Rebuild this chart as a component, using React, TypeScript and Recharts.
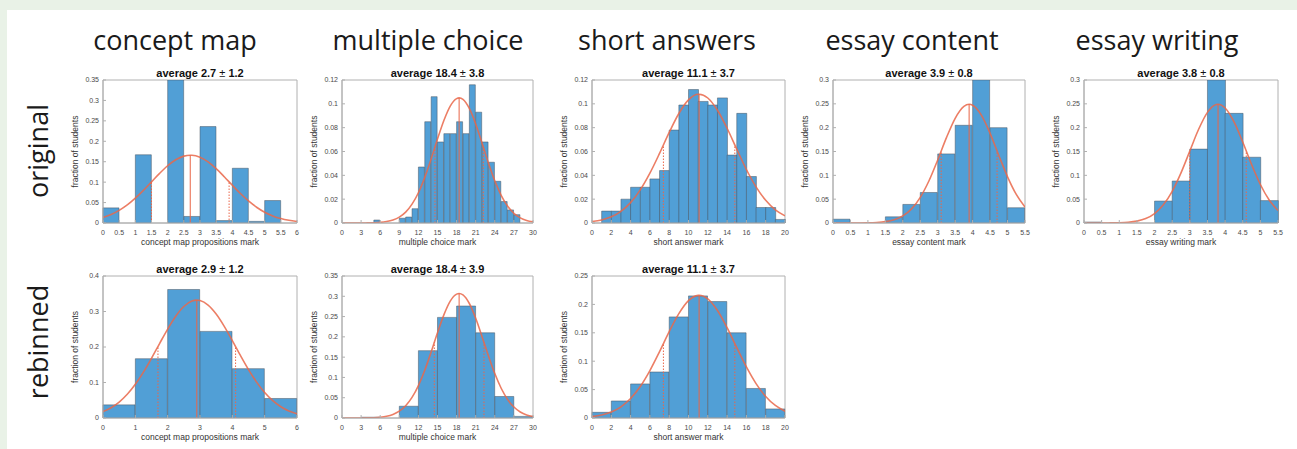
import React from 'react';
import { ComposedChart, Bar, Line, XAxis, YAxis, ReferenceLine, ReferenceArea } from 'recharts';

// ---------------- DATA ----------------
const columnHeaders = ['concept map', 'multiple choice', 'short answers', 'essay content', 'essay writing'];
const rowLabels = ['original', 'rebinned'];

// concept map (original)
const cmOrigBins = [0, 0.5, 1, 1.5, 2, 2.5, 3, 3.5, 4, 4.5, 5, 5.5];
const cmOrigFrac = [0.037, 0, 0.167, 0, 0.35, 0.016, 0.236, 0.006, 0.134, 0.004, 0.055, 0];
const cmOrigCurveX = [0, 0.25, 0.5, 0.75, 1, 1.25, 1.5, 1.75, 2, 2.25, 2.5, 2.7, 2.75, 3, 3.25, 3.5, 3.75, 4, 4.25, 4.5, 4.75, 5, 5.25, 5.5, 5.75, 6];
const cmOrigCurveY = [0.0132, 0.0206, 0.0309, 0.0443, 0.0609, 0.08, 0.1007, 0.1214, 0.1401, 0.1547, 0.1637, 0.166, 0.1659, 0.1609, 0.1494, 0.1329, 0.1132, 0.0923, 0.0721, 0.0539, 0.0386, 0.0264, 0.0174, 0.0109, 0.0066, 0.0038];
const cmOrigXTicks = [0, 0.5, 1, 1.5, 2, 2.5, 3, 3.5, 4, 4.5, 5, 5.5, 6];
const cmOrigYTicks = [0, 0.05, 0.1, 0.15, 0.2, 0.25, 0.3, 0.35];
const cmOrigStats = { mean: 2.7, lo: 1.5, hi: 3.9, peak: 0.166, sdY: 0.1007 };

// multiple choice (original)
const mcOrigBins = [0, 1, 2, 3, 4, 5, 6, 7, 8, 9, 10, 11, 12, 13, 14, 15, 16, 17, 18, 19, 20, 21, 22, 23, 24, 25, 26, 27, 28, 29];
const mcOrigFrac = [0, 0, 0, 0, 0, 0.0025, 0, 0, 0, 0.004, 0.005, 0.012, 0.047, 0.085, 0.106, 0.068, 0.075, 0.075, 0.085, 0.075, 0.116, 0.093, 0.068, 0.051, 0.035, 0.018, 0.011, 0.007, 0, 0];
const mcOrigCurveX = [0, 1, 2, 3, 4, 5, 6, 7, 8, 9, 10, 11, 12, 13, 14, 15, 16, 17, 18, 18.4, 19, 20, 21, 22, 23, 24, 25, 26, 27, 28, 29, 30];
const mcOrigCurveY = [0, 0, 0, 0, 0.0001, 0.0002, 0.0005, 0.0012, 0.0025, 0.0049, 0.0091, 0.0158, 0.0254, 0.0383, 0.0537, 0.0704, 0.086, 0.0981, 0.1044, 0.105, 0.1037, 0.0961, 0.0831, 0.067, 0.0504, 0.0354, 0.0232, 0.0142, 0.0081, 0.0043, 0.0021, 0.001];
const mcOrigXTicks = [0, 3, 6, 9, 12, 15, 18, 21, 24, 27, 30];
const mcOrigYTicks = [0, 0.02, 0.04, 0.06, 0.08, 0.1, 0.12];
const mcOrigStats = { mean: 18.4, lo: 14.6, hi: 22.2, peak: 0.105, sdY: 0.0637 };

// short answers (original)
const saOrigBins = [0, 1, 2, 3, 4, 5, 6, 7, 8, 9, 10, 11, 12, 13, 14, 15, 16, 17, 18, 19];
const saOrigFrac = [0, 0.01, 0.01, 0.02, 0.03, 0.03, 0.037, 0.044, 0.078, 0.099, 0.112, 0.102, 0.099, 0.105, 0.057, 0.092, 0.039, 0.013, 0.013, 0.003];
const saOrigCurveX = [0, 1, 2, 3, 4, 5, 6, 7, 8, 9, 10, 11, 11.1, 12, 13, 14, 15, 16, 17, 18, 19, 20];
const saOrigCurveY = [0.0012, 0.0026, 0.0052, 0.0098, 0.0171, 0.0278, 0.0418, 0.0584, 0.076, 0.0919, 0.1033, 0.108, 0.108, 0.1049, 0.0946, 0.0795, 0.062, 0.0449, 0.0303, 0.019, 0.011, 0.006];
const saOrigXTicks = [0, 2, 4, 6, 8, 10, 12, 14, 16, 18, 20];
const saOrigYTicks = [0, 0.02, 0.04, 0.06, 0.08, 0.1, 0.12];
const saOrigStats = { mean: 11.1, lo: 7.4, hi: 14.8, peak: 0.108, sdY: 0.0655 };

// essay content (original)
const ecBins = [0, 0.5, 1, 1.5, 2, 2.5, 3, 3.5, 4, 4.5, 5];
const ecFrac = [0.008, 0, 0, 0.013, 0.039, 0.064, 0.145, 0.205, 0.3, 0.2, 0.032];
const ecCurveX = [0, 0.25, 0.5, 0.75, 1, 1.25, 1.5, 1.75, 2, 2.25, 2.5, 2.75, 3, 3.25, 3.5, 3.75, 3.9, 4, 4.25, 4.5, 4.75, 5, 5.25, 5.5];
const ecCurveY = [0, 0, 0, 0.0001, 0.0003, 0.001, 0.0028, 0.0067, 0.0148, 0.0297, 0.0539, 0.0886, 0.1323, 0.179, 0.2197, 0.2447, 0.249, 0.2471, 0.2263, 0.1879, 0.1416, 0.0969, 0.06, 0.0337];
const ecXTicks = [0, 0.5, 1, 1.5, 2, 2.5, 3, 3.5, 4, 4.5, 5, 5.5];
const ecYTicks = [0, 0.05, 0.1, 0.15, 0.2, 0.25, 0.3];
const ecStats = { mean: 3.9, lo: 3.1, hi: 4.7, peak: 0.249, sdY: 0.151 };

// essay writing (original)
const ewBins = [0, 0.5, 1, 1.5, 2, 2.5, 3, 3.5, 4, 4.5, 5];
const ewFrac = [0.002, 0, 0, 0, 0.046, 0.088, 0.155, 0.3, 0.23, 0.138, 0.047];
const ewCurveX = [0, 0.25, 0.5, 0.75, 1, 1.25, 1.5, 1.75, 2, 2.25, 2.5, 2.75, 3, 3.25, 3.5, 3.75, 3.8, 4, 4.25, 4.5, 4.75, 5, 5.25, 5.5];
const ewCurveY = [0, 0, 0, 0.0002, 0.0005, 0.0015, 0.004, 0.0093, 0.0198, 0.0381, 0.0665, 0.1052, 0.151, 0.1966, 0.2321, 0.2485, 0.249, 0.2413, 0.2126, 0.1698, 0.123, 0.0808, 0.0482, 0.0261];
const ewXTicks = [0, 0.5, 1, 1.5, 2, 2.5, 3, 3.5, 4, 4.5, 5, 5.5];
const ewYTicks = [0, 0.05, 0.1, 0.15, 0.2, 0.25, 0.3];
const ewStats = { mean: 3.8, lo: 3.0, hi: 4.6, peak: 0.249, sdY: 0.151 };

// concept map (rebinned)
const cmRebBins = [0, 1, 2, 3, 4, 5];
const cmRebFrac = [0.037, 0.167, 0.362, 0.244, 0.139, 0.055];
const cmRebCurveX = [0, 0.25, 0.5, 0.75, 1, 1.25, 1.5, 1.75, 2, 2.25, 2.5, 2.75, 2.9, 3, 3.25, 3.5, 3.75, 4, 4.25, 4.5, 4.75, 5, 5.25, 5.5, 5.75, 6];
const cmRebCurveY = [0.0179, 0.029, 0.0449, 0.0667, 0.0948, 0.1291, 0.1681, 0.2098, 0.2506, 0.2867, 0.314, 0.3294, 0.332, 0.3308, 0.3182, 0.293, 0.2583, 0.2182, 0.1763, 0.1365, 0.1011, 0.0717, 0.0488, 0.0318, 0.0198, 0.0118];
const cmRebXTicks = [0, 1, 2, 3, 4, 5, 6];
const cmRebYTicks = [0, 0.1, 0.2, 0.3, 0.4];
const cmRebStats = { mean: 2.9, lo: 1.7, hi: 4.1, peak: 0.332, sdY: 0.2014 };

// multiple choice (rebinned)
const mcRebBins = [0, 3, 6, 9, 12, 15, 18, 21, 24, 27];
const mcRebFrac = [0, 0.002, 0, 0.029, 0.166, 0.248, 0.276, 0.21, 0.053, 0.004];
const mcRebCurveX = [0, 1, 2, 3, 4, 5, 6, 7, 8, 9, 10, 11, 12, 13, 14, 15, 16, 17, 18, 18.4, 19, 20, 21, 22, 23, 24, 25, 26, 27, 28, 29, 30];
const mcRebCurveY = [0, 0, 0, 0.0001, 0.0003, 0.0008, 0.002, 0.0043, 0.0088, 0.0168, 0.0302, 0.0507, 0.0799, 0.1177, 0.1625, 0.21, 0.2541, 0.288, 0.3054, 0.307, 0.3034, 0.2822, 0.2459, 0.2005, 0.1532, 0.1095, 0.0733, 0.046, 0.027, 0.0148, 0.0076, 0.0037];
const mcRebXTicks = [0, 3, 6, 9, 12, 15, 18, 21, 24, 27, 30];
const mcRebYTicks = [0, 0.05, 0.1, 0.15, 0.2, 0.25, 0.3, 0.35];
const mcRebStats = { mean: 18.4, lo: 14.5, hi: 22.3, peak: 0.307, sdY: 0.1862 };

// short answers (rebinned)
const saRebBins = [0, 2, 4, 6, 8, 10, 12, 14, 16, 18];
const saRebFrac = [0.01, 0.03, 0.06, 0.081, 0.178, 0.215, 0.205, 0.15, 0.052, 0.016];
const saRebCurveX = [0, 1, 2, 3, 4, 5, 6, 7, 8, 9, 10, 11, 11.1, 12, 13, 14, 15, 16, 17, 18, 19, 20];
const saRebCurveY = [0.0024, 0.0052, 0.0105, 0.0197, 0.0343, 0.0555, 0.0836, 0.1169, 0.1521, 0.1838, 0.2067, 0.2159, 0.216, 0.2097, 0.1892, 0.159, 0.124, 0.0899, 0.0606, 0.038, 0.0221, 0.012];
const saRebXTicks = [0, 2, 4, 6, 8, 10, 12, 14, 16, 18, 20];
const saRebYTicks = [0, 0.05, 0.1, 0.15, 0.2, 0.25];
const saRebStats = { mean: 11.1, lo: 7.4, hi: 14.8, peak: 0.216, sdY: 0.131 };

// ---------------- STYLE / LAYOUT ----------------
const BAR_FILL = '#519fd6';
const BAR_EDGE = '#4a5560';
const CURVE = '#e9674a';
const FRAME = '#b0b0b0';
const TICK_FILL = '#4a4a4a';
const YW = 36;
const MT = 6;
const MR = 8;
const XH = 22;
const MB = 4;

type PanelDef = {
  L: number; T: number; W: number; H: number;
  title: string; sd: string; xLabel: string;
  bins: number[]; frac: number[]; curveX: number[]; curveY: number[];
  xTicks: number[]; yTicks: number[];
  stats: { mean: number; lo: number; hi: number; peak: number; sdY: number };
};

const ROW1_T = 80, ROW1_H = 143, ROW2_T = 276, ROW2_H = 142;

const panels: PanelDef[] = [
  { L: 103, T: ROW1_T, W: 194, H: ROW1_H, title: 'average 2.7', sd: '1.2', xLabel: 'concept map propositions mark', bins: cmOrigBins, frac: cmOrigFrac, curveX: cmOrigCurveX, curveY: cmOrigCurveY, xTicks: cmOrigXTicks, yTicks: cmOrigYTicks, stats: cmOrigStats },
  { L: 342, T: ROW1_T, W: 191, H: ROW1_H, title: 'average 18.4', sd: '3.8', xLabel: 'multiple choice mark', bins: mcOrigBins, frac: mcOrigFrac, curveX: mcOrigCurveX, curveY: mcOrigCurveY, xTicks: mcOrigXTicks, yTicks: mcOrigYTicks, stats: mcOrigStats },
  { L: 592, T: ROW1_T, W: 193, H: ROW1_H, title: 'average 11.1', sd: '3.7', xLabel: 'short answer mark', bins: saOrigBins, frac: saOrigFrac, curveX: saOrigCurveX, curveY: saOrigCurveY, xTicks: saOrigXTicks, yTicks: saOrigYTicks, stats: saOrigStats },
  { L: 833, T: ROW1_T, W: 192, H: ROW1_H, title: 'average 3.9', sd: '0.8', xLabel: 'essay content mark', bins: ecBins, frac: ecFrac, curveX: ecCurveX, curveY: ecCurveY, xTicks: ecXTicks, yTicks: ecYTicks, stats: ecStats },
  { L: 1084, T: ROW1_T, W: 194, H: ROW1_H, title: 'average 3.8', sd: '0.8', xLabel: 'essay writing mark', bins: ewBins, frac: ewFrac, curveX: ewCurveX, curveY: ewCurveY, xTicks: ewXTicks, yTicks: ewYTicks, stats: ewStats },
  { L: 103, T: ROW2_T, W: 194, H: ROW2_H, title: 'average 2.9', sd: '1.2', xLabel: 'concept map propositions mark', bins: cmRebBins, frac: cmRebFrac, curveX: cmRebCurveX, curveY: cmRebCurveY, xTicks: cmRebXTicks, yTicks: cmRebYTicks, stats: cmRebStats },
  { L: 342, T: ROW2_T, W: 191, H: ROW2_H, title: 'average 18.4', sd: '3.9', xLabel: 'multiple choice mark', bins: mcRebBins, frac: mcRebFrac, curveX: mcRebCurveX, curveY: mcRebCurveY, xTicks: mcRebXTicks, yTicks: mcRebYTicks, stats: mcRebStats },
  { L: 592, T: ROW2_T, W: 193, H: ROW2_H, title: 'average 11.1', sd: '3.7', xLabel: 'short answer mark', bins: saRebBins, frac: saRebFrac, curveX: saRebCurveX, curveY: saRebCurveY, xTicks: saRebXTicks, yTicks: saRebYTicks, stats: saRebStats },
];

const headerX = [175, 428, 667, 912, 1157];

function Panel({ p }: { p: PanelDef }) {
  const barData = p.bins.map((b, i) => ({ bin: String(b), frac: p.frac[i] }));
  const curveData = p.curveX.map((x, i) => ({ x, y: p.curveY[i] }));
  const xMax = p.xTicks[p.xTicks.length - 1];
  const yMax = p.yTicks[p.yTicks.length - 1];
  const s = p.stats;
  const tickStyle = { fontSize: 7, fill: TICK_FILL, fontFamily: 'Liberation Sans, Arial, sans-serif' };
  return (
    <div style={{ position: 'absolute', left: p.L - YW, top: p.T - MT }}>
      <ComposedChart
        width={YW + p.W + MR}
        height={MT + p.H + XH + MB}
        data={barData}
        margin={{ top: MT, right: MR, bottom: MB, left: 0 }}
        barCategoryGap={0}
        barGap={0}
      >
        <XAxis
          xAxisId="num"
          dataKey="x"
          type="number"
          domain={[0, xMax]}
          ticks={p.xTicks}
          interval={0}
          allowDataOverflow
          height={XH}
          tickSize={-3}
          tickMargin={10}
          axisLine={{ stroke: FRAME }}
          tickLine={{ stroke: FRAME }}
          tick={tickStyle}
          label={{ value: p.xLabel, position: 'insideBottom', offset: 0, style: { fontSize: 8.5, fill: '#333', fontFamily: 'Liberation Sans, Arial, sans-serif' } }}
        />
        <XAxis xAxisId="cat" dataKey="bin" type="category" hide height={0} />
        <YAxis
          type="number"
          domain={[0, yMax]}
          ticks={p.yTicks}
          interval={0}
          allowDataOverflow
          width={YW}
          tickSize={-3}
          tickMargin={7}
          axisLine={{ stroke: FRAME }}
          tickLine={{ stroke: FRAME }}
          tick={tickStyle}
          label={{ value: 'fraction of students', angle: -90, position: 'insideLeft', offset: 8, style: { textAnchor: 'middle', fontSize: 8.5, fill: '#333', fontFamily: 'Liberation Sans, Arial, sans-serif' } }}
        />
        <ReferenceArea xAxisId="num" x1={0} x2={xMax} y1={0} y2={yMax} fill="none" stroke={FRAME} strokeWidth={1} ifOverflow="visible" />
        <Bar xAxisId="cat" dataKey="frac" fill={BAR_FILL} stroke={BAR_EDGE} strokeWidth={0.5} isAnimationActive={false} />
        <Line xAxisId="num" data={curveData} dataKey="y" type="monotone" dot={false} activeDot={false} stroke={CURVE} strokeWidth={1.6} strokeOpacity={0.85} isAnimationActive={false} />
        <ReferenceLine xAxisId="num" segment={[{ x: s.mean, y: 0 }, { x: s.mean, y: s.peak }]} stroke={CURVE} strokeWidth={1.2} strokeOpacity={0.85} ifOverflow="visible" />
        <ReferenceLine xAxisId="num" segment={[{ x: s.lo, y: 0 }, { x: s.lo, y: s.sdY }]} stroke={CURVE} strokeWidth={1} strokeDasharray="1.5 1.5" ifOverflow="visible" />
        <ReferenceLine xAxisId="num" segment={[{ x: s.hi, y: 0 }, { x: s.hi, y: s.sdY }]} stroke={CURVE} strokeWidth={1} strokeDasharray="1.5 1.5" ifOverflow="visible" />
      </ComposedChart>
    </div>
  );
}

export default function App() {
  return (
    <div style={{ position: 'absolute', left: 0, top: 0, width: 1297, height: 449, background: '#e9f2e7', overflow: 'hidden' }}>
      <div style={{ position: 'absolute', left: 7, top: 10, right: 0, bottom: 0, background: '#ffffff' }} />
      {panels.map((p, i) => (
        <Panel key={i} p={p} />
      ))}
      <svg width={1297} height={449} style={{ position: 'absolute', left: 0, top: 0, pointerEvents: 'none' }}>
        {columnHeaders.map((h, i) => (
          <text key={h} x={headerX[i]} y={50} textAnchor="middle" fontFamily="Open Sans, Noto Sans, sans-serif" fontSize={27} fill="#1a1a1a">{h}</text>
        ))}
        <text transform="translate(48,151) rotate(-90)" textAnchor="middle" fontFamily="Open Sans, Noto Sans, sans-serif" fontSize={27} fill="#1a1a1a">{rowLabels[0]}</text>
        <text transform="translate(48,342) rotate(-90)" textAnchor="middle" fontFamily="Open Sans, Noto Sans, sans-serif" fontSize={27} fill="#1a1a1a">{rowLabels[1]}</text>
        {panels.map((p, i) => (
          <text key={'t' + i} x={p.L + p.W / 2} y={p.T - 3.5} textAnchor="middle" fontFamily="Liberation Sans, Arial, sans-serif" fontSize={11} fontWeight="bold" fill="#111">
            {p.title}
            <tspan fontWeight="normal"> ± </tspan>
            {p.sd}
          </text>
        ))}
      </svg>
    </div>
  );
}
